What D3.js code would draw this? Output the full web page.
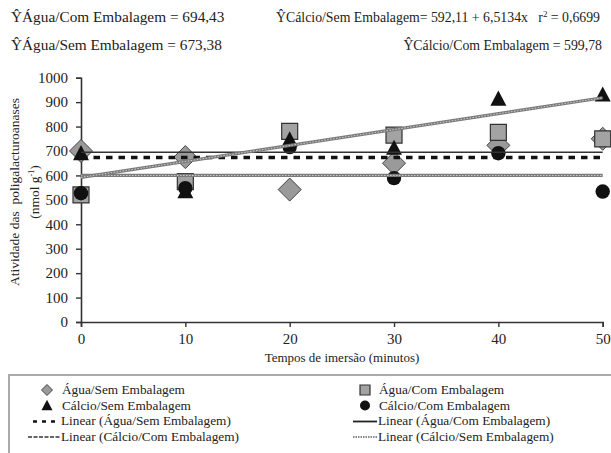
<!DOCTYPE html>
<html><head><meta charset="utf-8">
<script src="https://cdn.jsdelivr.net/npm/d3@7"></script>
<style>body{margin:0;background:#fff}svg text{font-family:"Liberation Serif",Tinos,"Times New Roman",Times,serif;fill:#222}</style>
</head><body><svg id="c" width="611" height="453"></svg>
<script>
const times = [0, 10, 20, 30, 40, 50];
const aguaSem = [700, 675, 542, 650, 723, 750];
const aguaCom = [520, 575, 780, 765, 776, 750];
const calcioSem = [690, 534, 746, 712, 913, 930];
const calcioCom = [527, 548, 716, 589, 691, 534];
const yTicks = [0, 100, 200, 300, 400, 500, 600, 700, 800, 900, 1000];
const xTicks = [0, 10, 20, 30, 40, 50];
const fitAguaCom = 694.43, fitAguaSem = 673.38, fitCalcioCom = 599.78;
const fitCalcioSem = {a: 592.11, b: 6.5134};

const FF = '"Liberation Serif",Tinos,"Times New Roman",Times,serif';
const svg = d3.select("#c");
const x = d3.scaleLinear().domain([0, 50]).range([81, 602.7]);
const y = d3.scaleLinear().domain([0, 1000]).range([322, 77.7]);

// annotations
svg.append("text").attr("x", 11).attr("y", 22).attr("font-size", 15.3).text("ŶÁgua/Com Embalagem = 694,43");
svg.append("text").attr("x", 11).attr("y", 50).attr("font-size", 15.3).text("ŶÁgua/Sem Embalagem = 673,38");
const t1 = svg.append("text").attr("x", 600).attr("y", 22).attr("font-size", 13.8).attr("text-anchor", "end");
t1.append("tspan").text("ŶCálcio/Sem Embalagem= 592,11 + 6,5134x\u00a0\u00a0\u00a0r");
t1.append("tspan").attr("dy", -5).attr("font-size", 9).text("2");
t1.append("tspan").attr("dy", 5).text(" = 0,6699");
svg.append("text").attr("x", 602).attr("y", 50).attr("font-size", 13.8).attr("text-anchor", "end").text("ŶCálcio/Com Embalagem = 599,78");

// axes
const gy = svg.append("g").attr("transform", "translate(81,0)")
  .call(d3.axisLeft(y).tickValues(yTicks).tickSize(5).tickPadding(8).tickFormat(d3.format("d")));
const gx = svg.append("g").attr("transform", "translate(0,322)")
  .call(d3.axisBottom(x).tickValues(xTicks).tickSize(5).tickPadding(6).tickFormat(d3.format("d")));
[gy, gx].forEach(g => {
  g.select(".domain").attr("stroke", "#333").attr("stroke-width", 1.6);
  g.selectAll(".tick line").attr("stroke", "#333").attr("stroke-width", 1.4);
  g.selectAll(".tick text").attr("font-family", FF).attr("font-size", 15).attr("fill", "#222");
});

svg.append("text").attr("x", 342).attr("y", 362).attr("font-size", 13).attr("text-anchor", "middle").text("Tempos de imersão (minutos)");
const yl = svg.append("g").attr("transform", "translate(0,192) rotate(-90)");
yl.append("text").attr("x", 0).attr("y", 19).attr("font-size", 13.5).attr("text-anchor", "middle").text("Atividade das\u00a0\u00a0poligalacturoanases");
const yl2 = yl.append("text").attr("x", 0).attr("y", 39).attr("font-size", 13.5).attr("text-anchor", "middle");
yl2.append("tspan").text("(nmol g");
yl2.append("tspan").attr("dy", -5).attr("font-size", 8).text("-1");
yl2.append("tspan").attr("dy", 5).text(")");

// markers
const sym = {
  diamond: s => `M0,${-s}L${s},0L0,${s}L${-s},0Z`,
  square: s => `M${-s},${-s}H${s}V${s}H${-s}Z`,
  tri: s => `M0,${-s*1.05}L${s},${s*0.85}L${-s},${s*0.85}Z`
};
function drawMarker(g, type, px, py, big) {
  if (type === "diamond") g.append("path").attr("transform", `translate(${px},${py})`).attr("d", sym.diamond(big ? 11.5 : 5.5)).attr("fill", "#9a9a9a").attr("stroke", "#444").attr("stroke-width", 1);
  if (type === "square") g.append("path").attr("transform", `translate(${px},${py})`).attr("d", sym.square(big ? 8 : 5)).attr("fill", "#a3a3a3").attr("stroke", "#333").attr("stroke-width", 1.2);
  if (type === "tri") g.append("path").attr("transform", `translate(${px},${py})`).attr("d", sym.tri(big ? 8 : 5.5)).attr("fill", "#111");
  if (type === "circle") g.append("circle").attr("cx", px).attr("cy", py).attr("r", big ? 7.2 : 5).attr("fill", "#111");
}
const series = [
  {vals: aguaSem, type: "diamond"},
  {vals: aguaCom, type: "square"},
  {vals: calcioSem, type: "tri"},
  {vals: calcioCom, type: "circle"}
];
const gm = svg.append("g");
series.forEach(s => s.vals.forEach((v, i) => drawMarker(gm, s.type, x(times[i]), y(v), true)));

// fit lines
function hatched(g, x1, y1, x2, y2) {
  g.append("line").attr("x1", x1).attr("y1", y1).attr("x2", x2).attr("y2", y2).attr("stroke", "#7a7a7a").attr("stroke-width", 3.2);
  g.append("line").attr("x1", x1).attr("y1", y1).attr("x2", x2).attr("y2", y2).attr("stroke", "#cfcfcf").attr("stroke-width", 1).attr("stroke-dasharray", "1.5,1.5");
}
const gl = svg.append("g");
gl.append("line").attr("x1", x(0)).attr("x2", x(50)).attr("y1", y(fitAguaCom)).attr("y2", y(fitAguaCom)).attr("stroke", "#333").attr("stroke-width", 1.5);
gl.append("line").attr("x1", x(0)).attr("x2", x(50)).attr("y1", y(fitAguaSem)).attr("y2", y(fitAguaSem)).attr("stroke", "#111").attr("stroke-width", 3.5).attr("stroke-dasharray", "6.5,6");
hatched(gl, x(0), y(fitCalcioCom), x(50), y(fitCalcioCom));
hatched(gl, x(0), y(fitCalcioSem.a), x(50), y(fitCalcioSem.a + fitCalcioSem.b * 50));

// legend
svg.append("rect").attr("x", 9).attr("y", 375).attr("width", 640).attr("height", 120).attr("fill", "none").attr("stroke", "#aaa").attr("stroke-width", 2);
const lg = svg.append("g");
const rows = [394, 409.5, 425, 440.5];
const legendItems = [
  {col: 0, row: 0, label: "Água/Sem Embalagem", kind: "diamond"},
  {col: 1, row: 0, label: "Água/Com Embalagem", kind: "square"},
  {col: 0, row: 1, label: "Cálcio/Sem Embalagem", kind: "tri"},
  {col: 1, row: 1, label: "Cálcio/Com Embalagem", kind: "circle"},
  {col: 0, row: 2, label: "Linear (Água/Sem Embalagem)", kind: "dash"},
  {col: 1, row: 2, label: "Linear (Água/Com Embalagem)", kind: "solid"},
  {col: 0, row: 3, label: "Linear (Cálcio/Com Embalagem)", kind: "hatchC"},
  {col: 1, row: 3, label: "Linear (Cálcio/Sem Embalagem)", kind: "hatchS"}
];
const colSym = [47, 365], colText = [62, 379], colLine = [[30, 60], [353, 377]];
legendItems.forEach(it => {
  const ry = rows[it.row];
  const isMarker = ["diamond", "square", "tri", "circle"].includes(it.kind);
  const tx = isMarker ? colText[it.col] : colLine[it.col][1] + 1;
  if (isMarker) drawMarker(lg, it.kind, colSym[it.col], ry - 4, false);
  const [a, b] = colLine[it.col];
  const ly = ry - 3.5;
  if (it.kind === "dash") lg.append("line").attr("x1", a + 3).attr("x2", b).attr("y1", ly).attr("y2", ly).attr("stroke", "#111").attr("stroke-width", 2.5).attr("stroke-dasharray", "4,5");
  if (it.kind === "solid") lg.append("line").attr("x1", a).attr("x2", b).attr("y1", ly).attr("y2", ly).attr("stroke", "#222").attr("stroke-width", 1.8);
  if (it.kind === "hatchC") lg.append("line").attr("x1", a - 2).attr("x2", b).attr("y1", ly).attr("y2", ly).attr("stroke", "#333").attr("stroke-width", 1.3).attr("stroke-dasharray", "4,1.5");
  if (it.kind === "hatchS") lg.append("line").attr("x1", a).attr("x2", b).attr("y1", ly).attr("y2", ly).attr("stroke", "#666").attr("stroke-width", 1.3).attr("stroke-dasharray", "1.5,1");
  lg.append("text").attr("x", tx).attr("y", ry).attr("font-size", 13.3).text(it.label);
});
</script></body></html>
